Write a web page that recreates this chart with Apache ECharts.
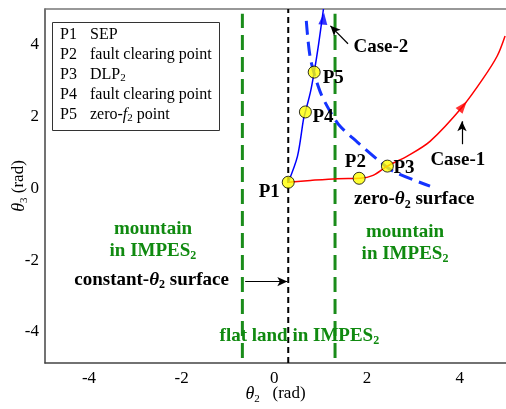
<!DOCTYPE html>
<html>
<head>
<meta charset="utf-8">
<script src="https://cdn.jsdelivr.net/npm/echarts@6/dist/echarts.min.js"></script>
<style>
html,body{margin:0;padding:0;background:#fff;}
#chart{width:506px;height:409px;}
</style>
</head>
<body>
<div id="chart"></div>
<script>
// ---- data ----
const xTicks = [-4, -2, 0, 2, 4];
const yTicks = [-4, -2, 0, 2, 4];

// Case-1 trajectory (red)
const case1X = [0.30, 0.78, 1.36, 1.85, 2.13, 2.44, 2.87, 3.36, 4.07, 4.50, 4.81, 4.98];
const case1Y = [0.17, 0.22, 0.27, 0.28, 0.36, 0.62, 0.90, 1.31, 2.29, 3.05, 3.69, 4.25];
// Case-2 trajectory (blue solid)
const case2X = [0.30, 0.50, 0.63, 0.67, 0.78, 0.86, 0.95, 1.06];
const case2Y = [0.17, 0.90, 1.93, 2.13, 2.69, 3.24, 3.97, 5.00];
// zero-theta2 surface (blue dashed)
const zeroX = [0.69, 0.78, 0.99, 1.21, 1.42, 1.79, 2.22, 2.56, 3.36];
const zeroY = [4.67, 3.61, 2.69, 2.13, 1.73, 1.29, 0.81, 0.48, 0.06];
// special points
const pointNames = ['P1', 'P2', 'P3', 'P4', 'P5'];
const pointX = [0.30, 1.83, 2.44, 0.67, 0.86];
const pointY = [0.17, 0.28, 0.62, 2.13, 3.24];
// vertical surfaces
const constTheta2 = 0.30;
const mountainEdges = [-0.69, 1.31];
// direction arrows on trajectories
const arrowX = [4.07, 1.06];
const arrowY = [2.29, 4.73];

// legend lines
const legendKeys = ['P1', 'P2', 'P3', 'P4', 'P5'];
const legendTexts = ['{t|SEP}', '{t|fault clearing point}', '{t|DLP}{ts|2}', '{t|fault clearing point}', '{t|zero-}{ti|f}{ts|2}{t| point}'];

// ---- build ----
const zip = (a, b) => a.map((v, i) => [v, b[i]]);
const FONT = 'Liberation Serif';
const GREEN = '#108a10';

const chart = echarts.init(document.getElementById('chart'));

const nb = {textBorderWidth: 0, textShadowBlur: 0, opacity: 1};
const richBold = {
  b: Object.assign({fontFamily: FONT, fontWeight: 'bold', fontSize: 19, lineHeight: 22, color: '#000'}, nb),
  bi: Object.assign({fontFamily: FONT, fontWeight: 'bold', fontStyle: 'italic', fontSize: 19, lineHeight: 22, color: '#000'}, nb),
  s: Object.assign({fontFamily: FONT, fontWeight: 'bold', fontSize: 12, lineHeight: 12, padding: [10, 0, 0, 0], verticalAlign: 'top', color: '#000'}, nb),
  g: Object.assign({fontFamily: FONT, fontWeight: 'bold', fontSize: 19, lineHeight: 22, color: GREEN}, nb),
  gs: Object.assign({fontFamily: FONT, fontWeight: 'bold', fontSize: 12, lineHeight: 12, padding: [10, 0, 0, 0], verticalAlign: 'top', color: GREEN}, nb)
};

const annotations = [
  {x: -0.11, y: -0.11, t: '{b|P1}'},
  {x: 1.75, y: 0.73, t: '{b|P2}'},
  {x: 2.80, y: 0.56, t: '{b|P3}'},
  {x: 1.05, y: 1.99, t: '{b|P4}'},
  {x: 1.27, y: 3.08, t: '{b|P5}'},
  {x: 2.30, y: 3.94, t: '{b|Case-2}'},
  {x: 3.96, y: 0.78, t: '{b|Case-1}'},
  {x: 3.02, y: -0.31, t: '{b|zero-}{bi|θ}{s|2}{b| surface}'},
  {x: -2.62, y: -1.45, t: '{g|mountain}\n{g|in IMPES}{gs|2}'},
  {x: 2.82, y: -1.52, t: '{g|mountain}\n{g|in IMPES}{gs|2}'},
  {x: -2.65, y: -2.55, t: '{b|constant-}{bi|θ}{s|2}{b| surface}'},
  {x: 0.54, y: -4.12, t: '{g|flat land in IMPES}{gs|2}'}
];

const arrowLines = [
  [[-0.63, -2.6], [0.28, -2.6]],
  [[1.59, 4.03], [1.21, 4.53]],
  [[4.05, 1.23], [4.05, 1.87]]
];

const vline = (x, y0, y1, color, width, dash) => ({
  type: 'line', data: [[x, y0], [x, y1]], symbol: 'none', silent: true,
  lineStyle: {color: color, width: width, type: dash}, z: 2
});

const nameRich = {
  i: {fontFamily: FONT, fontStyle: 'italic', fontSize: 18, lineHeight: 20, color: '#000'},
  s: {fontFamily: FONT, fontSize: 11, lineHeight: 11, padding: [10, 0, 0, 0], verticalAlign: 'top', color: '#000'},
  r: {fontFamily: FONT, fontSize: 17, lineHeight: 20, color: '#000'}
};

const option = {
  animation: false,
  backgroundColor: '#fff',
  title: {
    left: 52, top: 20,
    padding: [5, 8, 7, 8],
    borderColor: '#333', borderWidth: 1,
    text: legendKeys.map((k, i) => '{k|' + k + '}' + legendTexts[i]).join('\n'),
    textStyle: {
      fontWeight: 'normal', fontFamily: FONT, fontSize: 16, color: '#000',
      rich: {
        k: {fontFamily: FONT, fontWeight: 'normal', fontSize: 16, lineHeight: 20, width: 30, color: '#000'},
        t: {fontFamily: FONT, fontWeight: 'normal', fontSize: 16, lineHeight: 20, color: '#000'},
        ti: {fontFamily: FONT, fontWeight: 'normal', fontSize: 16, lineHeight: 20, fontStyle: 'italic', color: '#000'},
        ts: {fontFamily: FONT, fontWeight: 'normal', fontSize: 11, lineHeight: 11, padding: [8, 0, 0, 0], verticalAlign: 'top', color: '#000'}
      }
    }
  },
  grid: {left: 45, right: 0, top: 9, bottom: 46, containLabel: false, outerBoundsMode: 'none'},
  xAxis: [{
    type: 'value', min: -4.95, max: 5, position: 'bottom',
    axisLine: {show: true, onZero: false, lineStyle: {color: '#444', width: 1.5}},
    axisTick: {show: false},
    splitLine: {show: false},
    axisLabel: {showMinLabel: false, showMaxLabel: false, margin: 7,
      fontFamily: FONT, fontSize: 17, color: '#000',
      formatter: v => xTicks.includes(v) ? String(v) : ''},
    name: '{i|θ}{s|2}   {r|(rad)}', nameLocation: 'middle', nameGap: 21, nameMoveOverlap: false,
    nameTextStyle: {rich: nameRich, fontFamily: FONT, fontSize: 17, color: '#000'}
  }, {
    type: 'value', min: -4.95, max: 5, position: 'top',
    axisLine: {show: true, onZero: false, lineStyle: {color: '#777', width: 1.5}},
    axisTick: {show: false}, axisLabel: {show: false}, splitLine: {show: false}
  }],
  yAxis: {
    type: 'value', min: -4.87, max: 5,
    axisLine: {show: true, onZero: false, lineStyle: {color: '#444', width: 1.5}},
    axisTick: {show: false},
    splitLine: {show: false},
    axisLabel: {showMinLabel: false, showMaxLabel: false, margin: 6,
      fontFamily: FONT, fontSize: 17, color: '#000',
      formatter: v => yTicks.includes(v) ? String(v) : ''},
    name: '{i|θ}{s|3} {r|(rad)}', nameLocation: 'middle', nameGap: 16, nameRotate: 90, nameMoveOverlap: false,
    nameTextStyle: {rich: nameRich, fontFamily: FONT, fontSize: 17, color: '#000'}
  },
  series: [
    vline(mountainEdges[0], -4.73, 4.87, '#1a8c1a', 3, [15, 7]),
    vline(mountainEdges[1], -4.73, 4.87, '#1a8c1a', 3, [15, 7]),
    vline(constTheta2, -4.87, 5, '#000', 2, [6, 4]),
    {
      type: 'line', data: zip(zeroX, zeroY), symbol: 'none', smooth: 0.3, silent: true,
      lineStyle: {color: '#1433ff', width: 3, type: [14, 7]}, z: 3
    },
    {
      type: 'line', data: zip(case1X, case1Y), symbol: 'none', smooth: 0.3, silent: true,
      lineStyle: {color: '#ff0000', width: 1.5}, z: 4
    },
    {
      type: 'line', data: zip(case2X, case2Y), symbol: 'none', smooth: 0.3, silent: true,
      lineStyle: {color: '#0000ff', width: 1.5}, z: 4
    },
    {
      type: 'scatter', silent: true, z: 5,
      data: [
        {value: [arrowX[0], arrowY[0]], symbolRotate: -40, itemStyle: {color: '#ff0000'}},
        {value: [arrowX[1], arrowY[1]], symbolRotate: -6, itemStyle: {color: '#0000ff'}}
      ],
      symbol: 'triangle', symbolSize: [9, 12]
    },
    {
      type: 'line', data: [], silent: true,
      markLine: {
        silent: true, symbol: ['none', 'arrow'], symbolSize: [7, 10],
        label: {show: false},
        lineStyle: {color: '#000', width: 1.2, type: 'solid'},
        data: arrowLines.map(a => [{coord: a[0]}, {coord: a[1]}])
      }
    },
    {
      type: 'scatter', silent: true, z: 6,
      data: pointNames.map((n, i) => ({name: n, value: [pointX[i], pointY[i]]})),
      symbol: 'circle', symbolSize: 12,
      itemStyle: {color: '#ffff00', borderColor: '#000', borderWidth: 1}
    },
    {
      type: 'scatter', silent: true, z: 7,
      symbolSize: 0, itemStyle: {color: '#fff'},
      data: annotations.map(a => ({value: [a.x, a.y], label: {formatter: a.t}})),
      label: {show: true, position: 'inside', align: 'center', verticalAlign: 'middle',
        color: '#000', textBorderWidth: 0, textBorderColor: 'transparent', rich: richBold}
    }
  ]
};
chart.setOption(option);
</script>
</body>
</html>
